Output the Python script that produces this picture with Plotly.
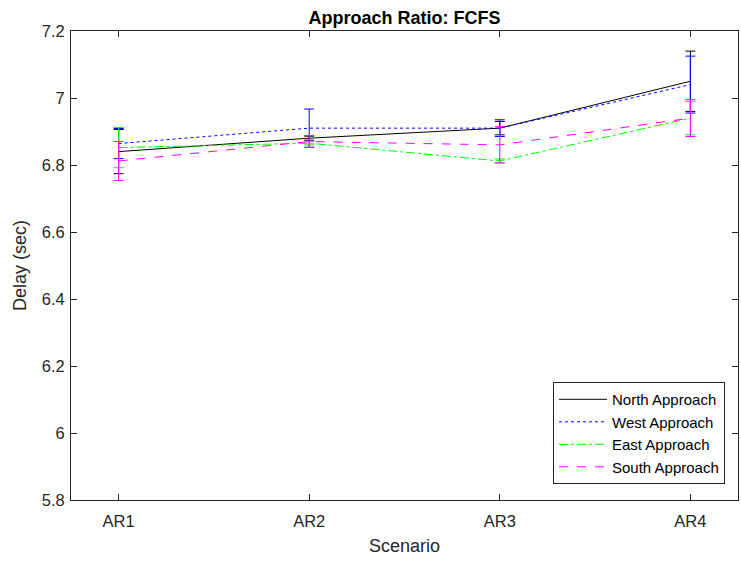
import plotly.graph_objects as go

scenarios = ["AR1", "AR2", "AR3", "AR4"]
x_pos = [1, 2, 3, 4]

north = [6.840, 6.880, 6.910, 7.050]
north_err = [0.066, 0.006, 0.020, 0.090]
west = [6.864, 6.910, 6.910, 7.040]
west_err = [0.045, 0.057, 0.025, 0.085]
east = [6.852, 6.865, 6.812, 6.940]
east_err = [0.060, 0.005, 0.006, 0.050]
south = [6.812, 6.870, 6.860, 6.940]
south_err = [0.058, 0.018, 0.054, 0.055]

y_ticks = [5.8, 6.0, 6.2, 6.4, 6.6, 6.8, 7.0, 7.2]
y_ticktext = ["5.8", "6", "6.2", "6.4", "6.6", "6.8", "7", "7.2"]

series = [
    ("North Approach", north, north_err, "#000000", "solid"),
    ("West Approach", west, west_err, "#0000ff", "dot"),
    ("East Approach", east, east_err, "#00ff00", "dashdot"),
    ("South Approach", south, south_err, "#ff00ff", "dash"),
]

FONT = "Liberation Sans, Arial, Helvetica"

fig = go.Figure()
for name, vals, errs, color, dash in series:
    fig.add_trace(go.Scatter(
        x=x_pos, y=vals, name=name, mode="lines",
        line=dict(color=color, width=1, dash=dash),
        error_y=dict(type="data", array=errs, visible=True,
                     color=color, thickness=1, width=5),
    ))

axis_common = dict(
    showline=True, linecolor="#262626", linewidth=1, mirror="ticks",
    ticks="inside", ticklen=6, tickcolor="#262626", showgrid=False,
    zeroline=False, tickfont=dict(family=FONT, size=16.5, color="#262626"),
)

fig.update_layout(
    width=741, height=561,
    margin=dict(l=71, r=3, t=31, b=61),
    paper_bgcolor="white", plot_bgcolor="white",
    title=dict(text="<b>Approach Ratio: FCFS</b>", x=(71 + 738) / 2 / 741, xanchor="center",
               y=1, yref="paper", yanchor="bottom", pad=dict(b=7),
               font=dict(family=FONT, size=18, color="#000000")),
    xaxis=dict(range=[0.75, 4.25], tickvals=x_pos, ticktext=scenarios,
               ticklabelstandoff=6,
               title=dict(text="Scenario", standoff=10,
                          font=dict(family=FONT, size=18, color="#262626")),
               **axis_common),
    yaxis=dict(range=[5.8, 7.2], tickvals=y_ticks, ticktext=y_ticktext,
               ticklabelstandoff=2,
               title=dict(text="Delay (sec)", standoff=10,
                          font=dict(family=FONT, size=18, color="#262626")),
               **axis_common),
    legend=dict(x=0.9805, y=0.034, xanchor="right", yanchor="bottom",
                bordercolor="#262626", borderwidth=1, bgcolor="white",
                font=dict(family=FONT, size=15, color="#000000"),
                tracegroupgap=0, itemwidth=48),
    showlegend=True,
)

fig.write_html("out.html")
